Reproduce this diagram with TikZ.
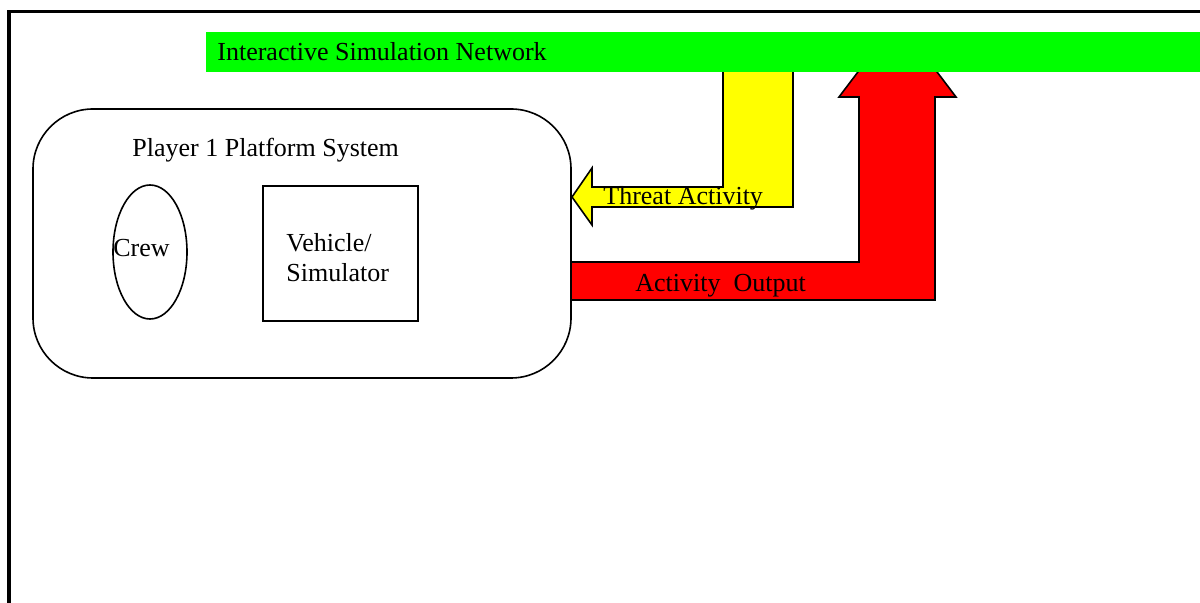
\documentclass[tikz,border=0pt]{standalone}
\usepackage{fontspec}
\setmainfont{Liberation Serif}
\usetikzlibrary{shapes.geometric}
\definecolor{netgreen}{RGB}{0,255,0}
\definecolor{threatyellow}{RGB}{255,255,0}
\definecolor{outred}{RGB}{255,0,0}
\begin{document}
\begin{tikzpicture}[x=0.5pt,y=-0.5pt,
  lbl/.style={inner sep=0pt,anchor=base west,font=\fontsize{13pt}{15pt}\selectfont},
  shapeline/.style={draw=black,line width=0.8pt},
  flowarrow/.style={shapeline,line join=miter}]
\useasboundingbox (0,0) rectangle (1200,603);
\fill[white] (0,0) rectangle (1200,603);
% frame
\draw[line width=1.75pt,line join=miter] (9,603) -- (9,11.5) -- (1200,11.5);
% platform
\node (platform) [shapeline,rounded corners=30pt,minimum width=269pt,minimum height=134.5pt,inner sep=0pt] at (302,243.5) {};
\node (crewshape) [shapeline,ellipse,minimum width=37pt,minimum height=67pt,inner sep=0pt] at (150,252) {};
\node (vehicle) [shapeline,rectangle,minimum width=77.5pt,minimum height=67.5pt,inner sep=0pt] at (340.5,253.5) {};
% arrows
\coordinate (outstart) at (571,262);
\coordinate (threattip) at (572,197);
\filldraw[flowarrow,fill=outred] (outstart) -- (859,262) -- (859,97) -- (839,97) -- (867,60) -- (928,60) -- (956,97) -- (935,97) -- (935,300) -- (571,300) -- cycle;
\filldraw[flowarrow,fill=threatyellow] (threattip) -- (592,168) -- (592,187) -- (723,187) -- (723,50) -- (793,50) -- (793,207) -- (592,207) -- (592,225) -- cycle;
% network bar
\fill[netgreen] (206,32) rectangle (1200,72);
% texts
\node (net) [lbl] at (217,61) {Interactive Simulation Network};
\node (player) [lbl] at (132,157) {Player 1 Platform System};
\node (crew) [lbl] at (113,257) {Crew};
\node (veh1) [lbl] at (286,252) {Vehicle/};
\node (veh2) [lbl] at (286,282) {Simulator};
\node (threat) [lbl] at (603,205) {Threat Activity};
\node (output) [lbl] at (635,292) {Activity\ \ Output};
\end{tikzpicture}
\end{document}
